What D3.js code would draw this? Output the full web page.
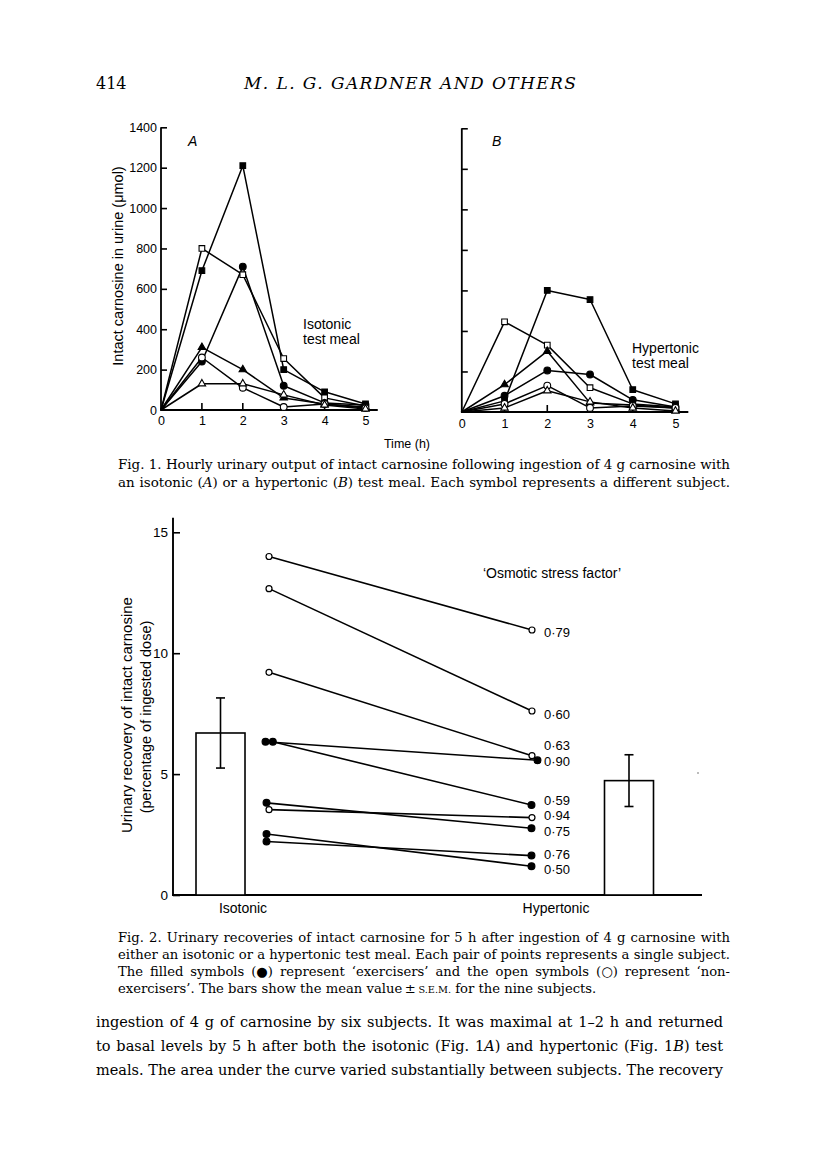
<!DOCTYPE html>
<html>
<head>
<meta charset="utf-8">
<script src="https://cdn.jsdelivr.net/npm/d3@7"></script>
<style>
  html, body { margin: 0; padding: 0; background: #fff; }
  svg { display: block; }
</style>
</head>
<body>
<script>
// ---------------- DATA ----------------
// Fig. 1: hourly output of intact carnosine (µmol), hours 0..5
const hours = [0, 1, 2, 3, 4, 5];
const fig1YTicks = [0, 200, 400, 600, 800, 1000, 1200, 1400];
const fig1XTicks = [0, 1, 2, 3, 4, 5];

// A: isotonic test meal (one array per subject)
const isoFilledSquare   = [0, 690, 1210, 200, 90, 30];
const isoOpenSquare     = [0, 800, 670, 255, 60, 20];
const isoFilledCircle   = [0, 240, 710, 120, 35, 25];
const isoFilledTriangle = [0, 310, 200, 60, 30, 15];
const isoOpenCircle     = [0, 260, 110, 15, 30, 10];
const isoOpenTriangle   = [0, 130, 130, 75, 25, 5];

// B: hypertonic test meal
const hypFilledSquare   = [0, 55, 600, 555, 110, 40];
const hypOpenSquare     = [0, 445, 330, 120, 40, 25];
const hypFilledTriangle = [0, 135, 300, 45, 35, 20];
const hypFilledCircle   = [0, 80, 205, 185, 60, 25];
const hypOpenCircle     = [0, 40, 130, 20, 30, 20];
const hypOpenTriangle   = [0, 20, 105, 50, 20, 5];

// Fig. 2: urinary recovery (% of ingested dose), nine subjects
const isotonicRecovery   = [14.0, 12.67, 9.21, 6.34, 6.34, 3.81, 3.53, 2.52, 2.21];
const hypertonicRecovery = [10.96, 7.61, 5.76, 5.57, 3.72, 2.76, 3.20, 1.19, 1.63];
const exerciser          = [false, false, false, true, true, true, false, true, true];
const stressFactor       = ["0·79", "0·60", "0·63", "0·90", "0·59", "0·75", "0·94", "0·50", "0·76"];
const conditions         = ["Isotonic", "Hypertonic"];
const meanRecovery       = [6.7, 4.73];
const semRecovery        = [1.45, 1.07];
const fig2YTicks         = [0, 5, 10, 15];

// ---------------- DRAWING ----------------
const W = 816, H = 1167;
const SANS = "'Liberation Sans', Arial, Helvetica, sans-serif";
const SERIF = "'DejaVu Serif', 'Liberation Serif', serif";

const svg = d3.select("body").append("svg")
  .attr("width", W).attr("height", H)
  .attr("viewBox", `0 0 ${W} ${H}`);
svg.append("rect").attr("width", W).attr("height", H).attr("fill", "#fff");

// ----- paragraph helper: uniform font size, lines justified via word-spacing -----
function paragraph(x, y0, lead, len, maxSize, lines) {
  const texts = lines.map((ln, k) => {
    const t = svg.append("text").attr("x", x).attr("y", y0 + k * lead)
      .attr("font-family", SERIF).attr("font-size", maxSize);
    ln.parts.forEach(p => {
      const ts = t.append("tspan").text(typeof p === "string" ? p : p.t);
      if (p.i) ts.attr("font-style", "italic");
      if (p.sc) ts.attr("class", "sc");
    });
    return t;
  });
  let size = maxSize;
  texts.forEach((t, k) => {
    if (!lines[k].justify) return;
    const w = t.node().getComputedTextLength();
    size = Math.min(size, maxSize * len / w);
  });
  texts.forEach((t, k) => {
    t.attr("font-size", size);
    t.selectAll("tspan.sc").attr("font-size", size * 0.74);
    if (lines[k].justify) {
      const w = t.node().getComputedTextLength();
      const str = t.text();
      const spaces = (str.match(/ /g) || []).length;
      if (spaces > 0) t.attr("word-spacing", ((len - w) / spaces).toFixed(3));
    }
  });
}

// ----- page header -----
svg.append("text").attr("x", 96).attr("y", 89)
  .attr("font-family", SERIF).attr("font-size", 16).text("414");
svg.append("text").attr("x", 244).attr("y", 89)
  .attr("font-family", SERIF).attr("font-size", 17).attr("font-style", "italic")
  .attr("textLength", 332).attr("lengthAdjust", "spacing")
  .text("M. L. G. GARDNER AND OTHERS");

// ----- Fig. 1 panels -----
const subjectsA = [
  {vals: isoFilledSquare, shape: d3.symbolSquare, filled: true},
  {vals: isoOpenSquare, shape: d3.symbolSquare, filled: false},
  {vals: isoFilledCircle, shape: d3.symbolCircle, filled: true},
  {vals: isoFilledTriangle, shape: d3.symbolTriangle, filled: true},
  {vals: isoOpenCircle, shape: d3.symbolCircle, filled: false},
  {vals: isoOpenTriangle, shape: d3.symbolTriangle, filled: false}
];
const subjectsB = [
  {vals: hypFilledSquare, shape: d3.symbolSquare, filled: true},
  {vals: hypOpenSquare, shape: d3.symbolSquare, filled: false},
  {vals: hypFilledCircle, shape: d3.symbolCircle, filled: true},
  {vals: hypFilledTriangle, shape: d3.symbolTriangle, filled: true},
  {vals: hypOpenCircle, shape: d3.symbolCircle, filled: false},
  {vals: hypOpenTriangle, shape: d3.symbolTriangle, filled: false}
];

function drawPanel(opts) {
  const g = svg.append("g");
  const x = d3.scaleLinear().domain([0, 5]).range([opts.x0, opts.x5]);
  const y = d3.scaleLinear().domain([0, 1400]).range([opts.yBase, opts.yTop]);

  g.append("line").attr("x1", x(0)).attr("x2", x(0))
    .attr("y1", y(0)).attr("y2", y(1400))
    .attr("stroke", "#000").attr("stroke-width", 1.8);
  g.append("line").attr("x1", x(0) - 0.9).attr("x2", x(5.3))
    .attr("y1", y(0)).attr("y2", y(0))
    .attr("stroke", "#000").attr("stroke-width", 1.8);

  const yAxis = d3.axisLeft(y).tickValues(fig1YTicks.filter(d => d > 0))
    .tickSize(-6).tickPadding(4)
    .tickFormat(opts.yLabels ? d3.format("d") : () => "");
  const ya = g.append("g").attr("transform", `translate(${x(0)},0)`).call(yAxis);
  ya.select(".domain").remove();
  ya.selectAll("line").attr("stroke-width", 1.6);
  ya.selectAll("text").attr("font-family", SANS).attr("font-size", 12.5).attr("fill", "#000");
  if (opts.yLabels) {
    g.append("text").attr("x", x(0) - 4).attr("y", y(0)).attr("dy", "0.36em")
      .attr("text-anchor", "end").attr("font-family", SANS).attr("font-size", 12.5)
      .text("0");
  }

  const xAxis = d3.axisBottom(x).tickValues(fig1XTicks)
    .tickSize(0).tickPadding(opts.xPad).tickFormat(d3.format("d"));
  const xa = g.append("g").attr("transform", `translate(0,${y(0)})`).call(xAxis);
  xa.select(".domain").remove();
  xa.selectAll("text").attr("font-family", SANS).attr("font-size", 12.5).attr("fill", "#000");
  g.selectAll(".xtick").data(fig1XTicks.filter(d => d > 0)).join("line")
    .attr("x1", d => x(d)).attr("x2", d => x(d))
    .attr("y1", y(0)).attr("y2", y(0) - 7)
    .attr("stroke", "#000").attr("stroke-width", 1.6);

  const line = d3.line().x((d, i) => x(hours[i])).y(d => y(d));
  g.selectAll(".subj").data(opts.subjects).join("path")
    .attr("d", s => line(s.vals))
    .attr("fill", "none").attr("stroke", "#000").attr("stroke-width", 1.5)
    .attr("stroke-linejoin", "round");

  opts.subjects.forEach(s => {
    const size = s.shape === d3.symbolTriangle ? 24 : (s.shape === d3.symbolCircle ? 36 : 32);
    g.selectAll(null).data(s.vals.slice(1)).join("path")
      .attr("transform", (d, i) => `translate(${x(hours[i + 1])},${y(d)})`)
      .attr("d", d3.symbol().type(s.shape).size(size))
      .attr("fill", s.filled ? "#000" : "#fff")
      .attr("stroke", "#000").attr("stroke-width", 1.1);
  });

  g.append("text").attr("x", opts.letterX).attr("y", 146)
    .attr("font-family", SANS).attr("font-size", 14).attr("font-style", "italic")
    .text(opts.letter);

  const ml = g.append("text").attr("font-family", SANS).attr("font-size", 14);
  opts.meal.forEach((t, i) => {
    ml.append("tspan").attr("x", opts.mealX).attr("y", opts.mealY + i * 15).text(t);
  });
  return {x, y};
}

drawPanel({x0: 161, x5: 365.5, yBase: 410, yTop: 127.3, yLabels: true, xPad: 6,
  subjects: subjectsA, letter: "A", letterX: 188, meal: ["Isotonic", "test meal"],
  mealX: 303, mealY: 329});
drawPanel({x0: 461.8, x5: 675.5, yBase: 412, yTop: 128.3, yLabels: false, xPad: 7,
  subjects: subjectsB, letter: "B", letterX: 492, meal: ["Hypertonic", "test meal"],
  mealX: 632, mealY: 353});

svg.append("text")
  .attr("transform", "translate(123,266) rotate(-90)")
  .attr("text-anchor", "middle").attr("font-family", SANS).attr("font-size", 14.5)
  .text("Intact carnosine in urine (\u03BCmol)");
svg.append("text").attr("x", 407).attr("y", 448)
  .attr("text-anchor", "middle").attr("font-family", SANS).attr("font-size", 12.5)
  .text("Time (h)");

// Fig. 1 caption
paragraph(118, 469, 18, 612, 14, [
  {parts: ["Fig. 1. Hourly urinary output of intact carnosine following ingestion of 4 g carnosine with"], justify: true},
  {parts: ["an isotonic (", {t: "A", i: true}, ") or a hypertonic (", {t: "B", i: true},
    ") test meal. Each symbol represents a different subject."], justify: true}
]);

// ----- Fig. 2 -----
const f2 = svg.append("g");
const y2 = d3.scaleLinear().domain([0, 15]).range([895, 532.3]);
const x2 = d3.scaleLinear().domain([0, 1]).range([173, 702]);
const condPos = {barCenter: [0.0898, 0.862], points: [0.1815, 0.6786]};
const barW = 49;

f2.append("line").attr("x1", x2(0)).attr("x2", x2(0))
  .attr("y1", y2(0)).attr("y2", y2(15.6))
  .attr("stroke", "#000").attr("stroke-width", 1.9);
f2.append("line").attr("x1", x2(0) - 1).attr("x2", x2(1))
  .attr("y1", y2(0)).attr("y2", y2(0))
  .attr("stroke", "#000").attr("stroke-width", 1.9);

const y2Axis = d3.axisLeft(y2).tickValues(fig2YTicks).tickSize(-7).tickPadding(5)
  .tickFormat(d3.format("d"));
const y2a = f2.append("g").attr("transform", `translate(${x2(0)},0)`).call(y2Axis);
y2a.select(".domain").remove();
y2a.selectAll("line").attr("stroke-width", 1.6);
y2a.selectAll("text").attr("font-family", SANS).attr("font-size", 13.5).attr("fill", "#000");

f2.selectAll(".bar").data(meanRecovery).join("rect")
  .attr("x", (d, i) => x2(condPos.barCenter[i]) - barW / 2)
  .attr("y", d => y2(d))
  .attr("width", barW)
  .attr("height", d => y2(0) - y2(d))
  .attr("fill", "#fff").attr("stroke", "#000").attr("stroke-width", 1.6);
meanRecovery.forEach((m, i) => {
  const cx = x2(condPos.barCenter[i]);
  const lo = m - semRecovery[i], hi = m + semRecovery[i];
  f2.append("line").attr("x1", cx).attr("x2", cx).attr("y1", y2(lo)).attr("y2", y2(hi))
    .attr("stroke", "#000").attr("stroke-width", 1.6);
  [lo, hi].forEach(v => f2.append("line").attr("x1", cx - 4.5).attr("x2", cx + 4.5)
    .attr("y1", y2(v)).attr("y2", y2(v)).attr("stroke", "#000").attr("stroke-width", 1.6));
});

const leftNudge = [0, 0, 0, -3.5, 3.8, -2.5, 0, -2.5, -2.5];
const rightNudge = [0, 0, 0, 5.5, -0.5, -0.5, 0, -0.5, -0.5];
const labelNudge = [2, 3, -10, 1.5, -5, 2.7, -2, 3.5, -1.5];
const pairs = isotonicRecovery.map((v, i) => ({
  a: v, b: hypertonicRecovery[i], filled: exerciser[i], f: stressFactor[i], i
}));
const lx = d => x2(condPos.points[0]) + leftNudge[d.i];
const rx = d => x2(condPos.points[1]) + rightNudge[d.i];
f2.selectAll(".pair").data(pairs).join("line")
  .attr("x1", lx).attr("y1", d => y2(d.a))
  .attr("x2", rx).attr("y2", d => y2(d.b))
  .attr("stroke", "#000").attr("stroke-width", 1.6);
f2.selectAll(".pl").data(pairs).join("circle")
  .attr("cx", lx).attr("cy", d => y2(d.a)).attr("r", d => d.filled ? 3.4 : 3)
  .attr("fill", d => d.filled ? "#000" : "#fff").attr("stroke", "#000").attr("stroke-width", 1.2);
f2.selectAll(".pr").data(pairs).join("circle")
  .attr("cx", rx).attr("cy", d => y2(d.b)).attr("r", d => d.filled ? 3.4 : 3)
  .attr("fill", d => d.filled ? "#000" : "#fff").attr("stroke", "#000").attr("stroke-width", 1.2);
f2.selectAll(".lab").data(pairs).join("text")
  .attr("x", x2(condPos.points[1]) + 12)
  .attr("y", d => y2(d.b) + labelNudge[d.i]).attr("dy", "0.36em")
  .attr("font-family", SANS).attr("font-size", 13)
  .text(d => d.f);

f2.append("text").attr("x", 552).attr("y", 578).attr("text-anchor", "middle")
  .attr("font-family", SANS).attr("font-size", 14)
  .text("\u2018Osmotic stress factor\u2019");

f2.selectAll(".cat").data(conditions).join("text")
  .attr("x", (d, i) => [243, 556][i]).attr("y", 913)
  .attr("text-anchor", "middle").attr("font-family", SANS).attr("font-size", 14)
  .text(d => d);

f2.append("text").attr("transform", "translate(132,715) rotate(-90)")
  .attr("text-anchor", "middle").attr("font-family", SANS).attr("font-size", 15)
  .text("Urinary recovery of intact carnosine");
f2.append("text").attr("transform", "translate(151,717) rotate(-90)")
  .attr("text-anchor", "middle").attr("font-family", SANS).attr("font-size", 14.5)
  .text("(percentage of ingested dose)");

// small print speck near the hypertonic bar
svg.append("circle").attr("cx", 698).attr("cy", 773).attr("r", 0.8).attr("fill", "#666");

// Fig. 2 caption
paragraph(118, 942, 17, 612, 14, [
  {parts: ["Fig. 2. Urinary recoveries of intact carnosine for 5 h after ingestion of 4 g carnosine with"], justify: true},
  {parts: ["either an isotonic or a hypertonic test meal. Each pair of points represents a single subject."], justify: true},
  {parts: ["The filled symbols (\u25CF) represent \u2018exercisers\u2019 and the open symbols (\u25CB) represent \u2018non-"], justify: true},
  {parts: ["exercisers\u2019. The bars show the mean value\u2009\u00B1\u2009", {t: "S.E.M.", sc: true}, " for the nine subjects."], justify: false}
]);

// body text
paragraph(96, 1027, 24, 627, 17.5, [
  {parts: ["ingestion of 4 g of carnosine by six subjects. It was maximal at 1\u20132 h and returned"], justify: true},
  {parts: ["to basal levels by 5 h after both the isotonic (Fig. 1", {t: "A", i: true},
    ") and hypertonic (Fig. 1", {t: "B", i: true}, ") test"], justify: true},
  {parts: ["meals. The area under the curve varied substantially between subjects. The recovery"], justify: true}
]);
</script>
</body>
</html>
